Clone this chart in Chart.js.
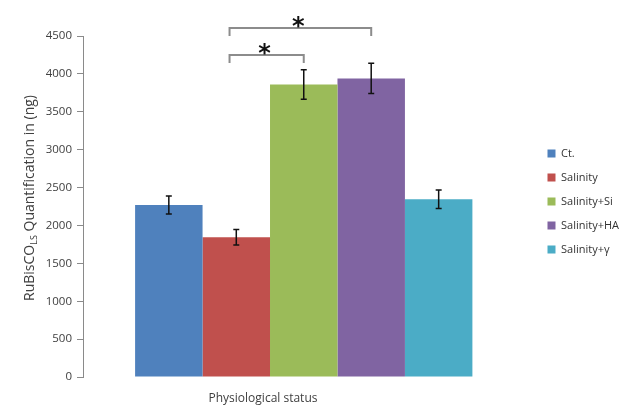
<!DOCTYPE html>
<html>
<head>
<meta charset="utf-8">
<script src="https://cdn.jsdelivr.net/npm/chart.js@4.4.0/dist/chart.umd.min.js"></script>
<style>
  html, body { margin: 0; padding: 0; background: #fff; }
  #wrap { width: 633px; height: 408px; }
</style>
</head>
<body>
<div id="wrap"><canvas id="Chart"></canvas></div>
<script>
let categories = ['Physiological status'];
let groups = ['Ct.', 'Salinity', 'Salinity+Si', 'Salinity+HA', 'Salinity+γ'];
let values = [2270, 1845, 3860, 3940, 2345];
let errors = [120, 102, 195, 200, 123];
let colors = ['#4F81BD', '#C0504D', '#9BBB59', '#8064A2', '#4BACC6'];
let yTicks = [0, 500, 1000, 1500, 2000, 2500, 3000, 3500, 4000, 4500];
// significance brackets: from group, to group, height in ng
let bracketFrom = [1, 1];
let bracketTo = [2, 3];
let bracketLevel = [4250, 4605];

let graph = document.getElementById('Chart');

let annotate = {
    id: 'annotate',
    afterDatasetsDraw(chart) {
        let ctx = chart.ctx;
        let y = chart.scales.y;
        ctx.save();
        // error bars
        ctx.strokeStyle = '#111';
        ctx.lineWidth = 1.5;
        values.forEach((v, i) => {
            let bar = chart.getDatasetMeta(i).data[0];
            let top = y.getPixelForValue(v + errors[i]);
            let bot = y.getPixelForValue(v - errors[i]);
            ctx.beginPath();
            ctx.moveTo(bar.x, top); ctx.lineTo(bar.x, bot);
            ctx.moveTo(bar.x - 3, top); ctx.lineTo(bar.x + 3, top);
            ctx.moveTo(bar.x - 3, bot); ctx.lineTo(bar.x + 3, bot);
            ctx.stroke();
        });
        // brackets and stars
        bracketFrom.forEach((f, k) => {
            let a = chart.getDatasetMeta(f).data[0];
            let b = chart.getDatasetMeta(bracketTo[k]).data[0];
            let x1 = a.x - a.width * 0.1;
            let x2 = b.x;
            let yy = y.getPixelForValue(bracketLevel[k]);
            ctx.strokeStyle = '#8c8c8c';
            ctx.lineWidth = 2;
            ctx.beginPath();
            ctx.moveTo(x1, yy + 8); ctx.lineTo(x1, yy); ctx.lineTo(x2, yy); ctx.lineTo(x2, yy + 8);
            ctx.stroke();
            ctx.fillStyle = '#111';
            ctx.font = 'bold 24px "DejaVu Sans"';
            ctx.textAlign = 'center';
            ctx.textBaseline = 'alphabetic';
            ctx.fillText('*', (x1 + x2) / 2 - 2, yy + 6);
        });
        ctx.restore();
    },
    afterDraw(chart) {
        let ctx = chart.ctx;
        ctx.save();
        ctx.fillStyle = '#404040';
        // x title
        ctx.font = '12px "Open Sans"';
        ctx.textAlign = 'center';
        ctx.textBaseline = 'middle';
        ctx.fillText(categories[0], 263, 399);
        // y title with subscript
        ctx.translate(30, 198);
        ctx.rotate(-Math.PI / 2);
        ctx.textAlign = 'left';
        ctx.textBaseline = 'middle';
        let big = '14px "Open Sans"', small = '9px "Open Sans"';
        let p1 = 'RuBisCO', p2 = 'LS', p3 = ' Quantification in (ng)';
        ctx.font = big;
        let w1 = ctx.measureText(p1).width, w3 = ctx.measureText(p3).width;
        ctx.font = small;
        let w2 = ctx.measureText(p2).width;
        let x = -(w1 + w2 + w3) / 2;
        ctx.font = big;
        ctx.fillText(p1, x, 0);
        ctx.font = small;
        ctx.fillText(p2, x + w1, 4);
        ctx.font = big;
        ctx.fillText(p3, x + w1 + w2, 0);
        ctx.restore();
    }
};

let chartData = {
    type: 'bar',
    data: {
        labels: categories,
        datasets: groups.map((g, i) => ({
            label: g,
            data: [values[i]],
            backgroundColor: colors[i],
            borderWidth: 0,
            categoryPercentage: 0.764,
            barPercentage: 1
        }))
    },
    options: {
        responsive: true,
        maintainAspectRatio: false,
        animation: false,
        layout: { padding: { top: 26, bottom: 31, left: 0, right: 4 } },
        plugins: {
            legend: {
                position: 'right',
                labels: {
                    boxWidth: 8,
                    boxHeight: 8,
                    padding: 13,
                    color: '#333',
                    font: { family: 'Open Sans', size: 11 }
                }
            },
            tooltip: { enabled: false }
        },
        scales: {
            x: { display: false },
            y: {
                min: 0,
                max: 4500,
                afterBuildTicks: s => { s.ticks = yTicks.map(v => ({ value: v })); },
                afterFit: s => { s.width = 83; },
                ticks: {
                    color: '#404040',
                    padding: 5,
                    font: { family: 'Open Sans', size: 11.5 },
                    callback: v => String(v)
                },
                grid: { drawOnChartArea: false, tickLength: 6, color: '#8a8a8a' },
                border: { color: '#8a8a8a' }
            },
            gap: {
                type: 'linear',
                position: 'right',
                grid: { display: false },
                ticks: { display: false },
                border: { display: false },
                afterFit: s => { s.width = 10; }
            },
            topgap: {
                type: 'linear',
                position: 'top',
                grid: { display: false },
                ticks: { display: false },
                border: { display: false },
                afterFit: s => { s.height = 10; }
            }
        }
    },
    plugins: [annotate]
};

let presentdata = new Chart(graph, chartData);
</script>
</body>
</html>
